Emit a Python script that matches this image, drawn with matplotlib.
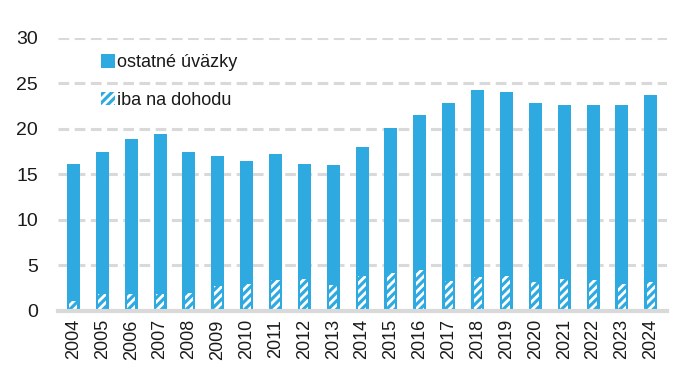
import numpy as np
import matplotlib
matplotlib.use("Agg")
import matplotlib.pyplot as plt

plt.rcParams['font.family'] = ['Liberation Sans', 'DejaVu Sans']
plt.rcParams['hatch.color'] = 'white'
plt.rcParams['hatch.linewidth'] = 2.0

# roky a hodnoty (odhad z grafu)
roky = [str(r) for r in range(2004, 2025)]
celkom = [16.2, 17.5, 18.9, 19.4, 17.5, 17.0, 16.5, 17.3, 16.2, 16.0, 18.0,
          20.1, 21.5, 22.8, 24.3, 24.1, 22.9, 22.6, 22.6, 22.6, 23.7]
dohody = [1.1, 1.8, 1.9, 1.9, 2.0, 2.7, 3.0, 3.4, 3.5, 2.8, 3.8,
          4.2, 4.5, 3.3, 3.7, 3.8, 3.2, 3.5, 3.4, 3.0, 3.2]
ostatne = [c - d for c, d in zip(celkom, dohody)]

modra = '#2eaae1'
text_farba = '#1a1a1a'

fig, ax = plt.subplots(figsize=(6.93, 3.80), dpi=100)
fig.subplots_adjust(left=0.083, right=0.962, top=0.9, bottom=0.182)

x = np.arange(len(roky))
# spodna cast - dohody (plny podklad + uzsi srafovany pas)
ax.bar(x, dohody, width=0.45, color=modra, linewidth=0, zorder=3)
ax.bar(x, dohody, width=0.28, color=modra, hatch='////', linewidth=0,
       label='iba na dohodu', zorder=3)
ax.bar(x, ostatne, width=0.45, bottom=dohody, color=modra, linewidth=0,
       label='ostatné úväzky', zorder=3)

ax.set_ylim(0, 30)
ax.set_yticks(range(0, 31, 5))
ax.set_xlim(-0.55, len(roky) - 0.45)
ax.set_xticks(x)
ax.set_xticklabels(roky, rotation=90, fontsize=13, color=text_farba)
ax.tick_params(axis='y', labelsize=14, length=0, pad=14, labelcolor=text_farba)
ax.tick_params(axis='x', length=0, pad=6)

ax.yaxis.grid(True, color='#d9d9d9', linewidth=2.2, linestyle=(0, (3.5, 1.8)), zorder=0)
for s in ['top', 'right', 'left']:
    ax.spines[s].set_visible(False)
ax.spines['bottom'].set_color('#d9d9d9')
ax.spines['bottom'].set_linewidth(3)
ax.spines['bottom'].set_zorder(4)

h, l = ax.get_legend_handles_labels()
ax.legend(h[::-1], l[::-1], loc='upper left', bbox_to_anchor=(0.045, 1.0),
          frameon=False, fontsize=13, handlelength=0.75, handleheight=0.75,
          handletextpad=0.15, labelspacing=1.15, labelcolor=text_farba)

fig.savefig('out.png', dpi=100)
